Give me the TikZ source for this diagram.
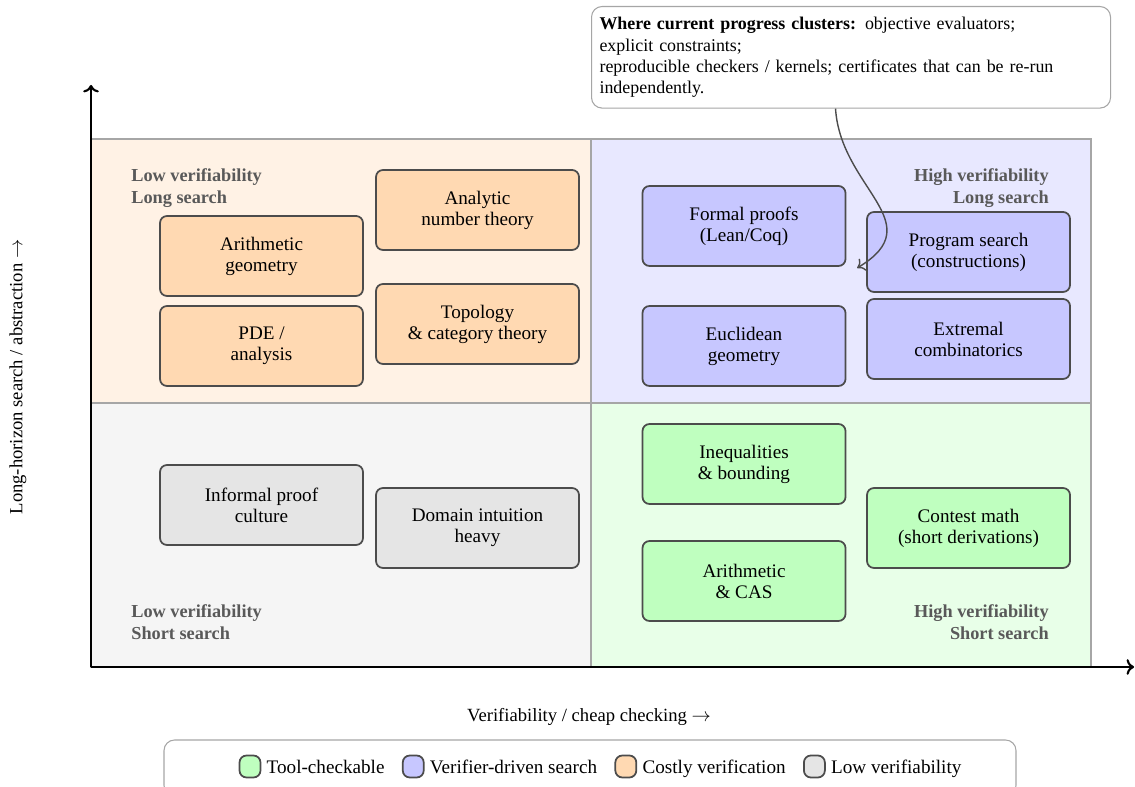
\documentclass[tikz,border=0pt]{standalone}
\usepackage{fontspec}
\setmainfont{Liberation Serif}
\usetikzlibrary{positioning,arrows.meta}
\hyphenpenalty=10000

\begin{document}
\begin{tikzpicture}[
	font=\fontsize{10.9}{12}\selectfont,
	box/.style={draw=black!70, line width=1pt, rounded corners=4pt, minimum width=4.06cm, minimum height=1.6cm, align=center},
	swatch/.style={draw=black!70, line width=1pt, rounded corners=4pt, minimum width=0.42cm, minimum height=0.44cm, inner sep=0pt},
	legtext/.style={inner sep=0pt, text height=1.9ex, text depth=0.2ex}
]

	%% Page size (legend frame runs off the bottom)
	\useasboundingbox (-1.82,-2.4) rectangle (20.88,13.34);

	%% The four quadrants
	\foreach \x/\y/\col in {0/5.28/orange!10, 10/5.28/blue!9, 0/0/black!4, 10/0/green!9}{%
		\filldraw[fill=\col, draw=black!35, line width=0.8pt] (\x,\y) rectangle ++(10,5.28);
	}

	%% Axes
	\coordinate (origin) at (0,0);
	\coordinate (xend) at (20.86,0);
	\coordinate (yend) at (0,11.64);
	\draw[->, line width=1.2pt] (origin) -- (xend);
	\draw[->, line width=1.2pt] (origin) -- (yend);

	\begin{scope}[every node/.style={font=\fontsize{10.6}{12}\selectfont}]
		\node (xlabel) at (9.96,-1.0) {Verifiability / cheap checking $\rightarrow$};
		\node[rotate=90] (ylabel) at (-1.46,5.8) {Long-horizon search / abstraction $\rightarrow$};
	\end{scope}

	%% Quadrant titles
	\begin{scope}[every node/.style={font=\fontsize{10.4}{12.5}\selectfont\bfseries, text=black!65, inner sep=0pt}]
		\node[anchor=north west, align=left] (tl-title) at (0.8,9.98) {Low verifiability\\Long search};
		\node[anchor=north east, align=right] (tr-title) at (19.16,9.98) {High verifiability\\Long search};
		\node[anchor=south west, align=left] (bl-title) at (0.8,0.54) {Low verifiability\\Short search};
		\node[anchor=south east, align=right] (br-title) at (19.16,0.54) {High verifiability\\Short search};
	\end{scope}

	%% Costly verification
	\begin{scope}[every node/.style={box, fill=orange!30}]
		\foreach \x/\y/\n/\txt in {3.41/8.22/arithgeo/{Arithmetic\\geometry}, 3.41/6.42/pde/{PDE /\\analysis},
			7.73/9.14/analytic/{Analytic\\number theory}, 7.73/6.86/topology/{Topology\\\& category theory}}{%
			\node at (\x,\y) (\n) {\txt};
		}
	\end{scope}

	%% Verifier-driven search
	\begin{scope}[every node/.style={box, fill=blue!22}]
		\foreach \x/\y/\n/\txt in {13.06/8.82/formal/{Formal proofs\\(Lean/Coq)}, 13.06/6.42/euclid/{Euclidean\\geometry},
			17.55/8.30/program/{Program search\\(constructions)}, 17.55/6.56/extremal/{Extremal\\combinatorics}}{%
			\node at (\x,\y) (\n) {\txt};
		}
	\end{scope}

	%% Low verifiability
	\begin{scope}[every node/.style={box, fill=black!10}]
		\foreach \x/\y/\n/\txt in {3.41/3.24/informal/{Informal proof\\culture}, 7.73/2.78/intuition/{Domain intuition\\heavy}}{%
			\node at (\x,\y) (\n) {\txt};
		}
	\end{scope}

	%% Tool-checkable
	\begin{scope}[every node/.style={box, fill=green!25}]
		\foreach \x/\y/\n/\txt in {13.06/4.06/ineq/{Inequalities\\\& bounding}, 13.06/1.72/cas/{Arithmetic\\\& CAS},
			17.55/2.78/contest/{Contest math\\(short derivations)}}{%
			\node at (\x,\y) (\n) {\txt};
		}
	\end{scope}

	%% Callout
	\node[draw=black!35, line width=0.6pt, fill=white, rounded corners=6pt, anchor=north west,
		font=\fontsize{10.2}{12}\selectfont, text width=10.06cm, align=left, inner xsep=0.16cm, inner ysep=0.22cm] (note) at (10.0,13.22)
		{\textbf{Where current progress clusters:} objective evaluators;\\explicit constraints;\\reproducible checkers / kernels; certificates that can be re-run independently.};
	\coordinate (hint) at ([xshift=-0.18cm, yshift=-0.32cm]program.west);
	\draw[-{Computer Modern Rightarrow[length=4pt, width=8pt]}, black!70, line width=0.8pt]
		([xshift=-0.31cm]note.south) .. controls +(0.1,-1.6) and +(1.5,0.9) .. (hint);

	%% Legend
	\node[draw=black!35, line width=0.6pt, rounded corners=6pt, minimum width=17.04cm, minimum height=1.12cm] (legend) at (9.98,-2.02) {};
	\node[swatch, fill=green!25] (sw1) at (3.18,-1.99) {};
	\node[legtext, right=0.1cm of sw1] (lab1) {Tool-checkable};
	\node[swatch, fill=blue!22, right=0.34cm of lab1] (sw2) {};
	\node[legtext, right=0.1cm of sw2] (lab2) {Verifier-driven search};
	\node[swatch, fill=orange!30, right=0.34cm of lab2] (sw3) {};
	\node[legtext, right=0.1cm of sw3] (lab3) {Costly verification};
	\node[swatch, fill=black!10, right=0.34cm of lab3] (sw4) {};
	\node[legtext, right=0.1cm of sw4] (lab4) {Low verifiability};

\end{tikzpicture}
\end{document}
